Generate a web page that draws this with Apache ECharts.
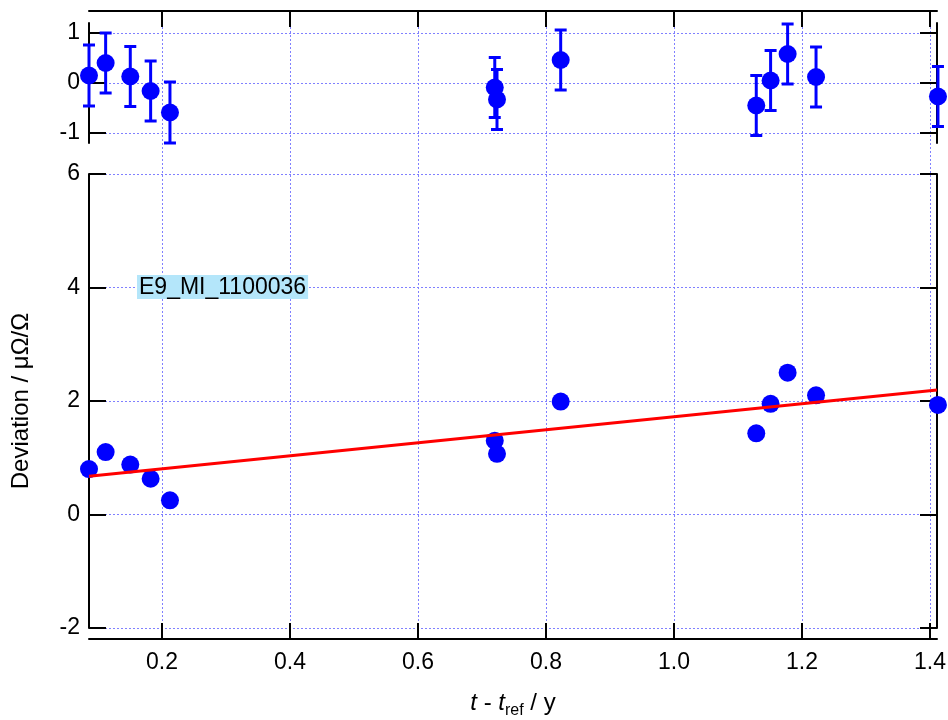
<!DOCTYPE html>
<html>
<head>
<meta charset="utf-8">
<script src="https://cdn.jsdelivr.net/npm/echarts@6/dist/echarts.min.js"></script>
<style>
html,body{margin:0;padding:0;background:#fff;}
#chart{width:948px;height:720px;}
</style>
</head>
<body>
<div id="chart"></div>
<script>
// ---- data ----
const xValues = [0.086, 0.112, 0.1505, 0.1823, 0.2125, 0.720, 0.7235, 0.823, 1.1286, 1.151, 1.1776, 1.222, 1.4125];
const deviation = [0.80, 1.10, 0.88, 0.63, 0.25, 1.30, 1.07, 1.99, 1.43, 1.95, 2.50, 2.10, 1.93];
const residuals = [0.15, 0.40, 0.13, -0.16, -0.59, -0.09, -0.33, 0.46, -0.45, 0.05, 0.58, 0.12, -0.27];
const residualErr = [0.61, 0.60, 0.60, 0.60, 0.61, 0.60, 0.60, 0.60, 0.60, 0.60, 0.60, 0.60, 0.60];
const fitX = [0.086, 1.411];
const fitY = [0.674, 2.194];
const xTicks = [0.2, 0.4, 0.6, 0.8, 1.0, 1.2, 1.4];
const mainYTicks = [-2, 0, 2, 4, 6];
const resYTicks = [-1, 0, 1];
const labelText = 'E9_MI_1100036';

const X_MIN = 0.086, X_MAX = 1.411;
const FONT = '"Liberation Sans", Arial, sans-serif';
const GRID_COLOR = '#8080ff';
const BLUE = '#0000ff';

const chart = echarts.init(document.getElementById('chart'));

const axisLine = {show: true, onZero: false, lineStyle: {color: '#000', width: 2}};
const tick = (vals, len) => ({show: true, inside: true, length: len, customValues: vals, lineStyle: {color: '#000', width: 2}});
const gridLine = {show: true, lineStyle: {color: GRID_COLOR, width: 1, type: [2, 2]}};
const lbl = (vals, fmt, margin) => ({show: true, customValues: vals, formatter: fmt, color: '#000', fontSize: 23, fontFamily: FONT, margin: margin});

const mainData = xValues.map((x, i) => [x, deviation[i]]);
const resData = xValues.map((x, i) => [x, residuals[i]]);
const errData = xValues.map((x, i) => [x, residuals[i] - residualErr[i], residuals[i] + residualErr[i]]);
const fitData = fitX.map((x, i) => [x, fitY[i]]);

const option = {
  backgroundColor: '#fff',
  animation: false,
  grid: [
    {left: 89, width: 848, top: 23, height: 120, outerBoundsMode: 'none', containLabel: false},
    {left: 89, width: 848, top: 174, height: 454, outerBoundsMode: 'none', containLabel: false},
    {left: 89, width: 848, top: 23, height: 605, outerBoundsMode: 'none', containLabel: false}
  ],
  xAxis: [
    {gridIndex: 0, type: 'value', min: X_MIN, max: X_MAX, position: 'top', offset: 12,
     axisLine: axisLine, axisTick: tick(xTicks, 16), axisLabel: {show: false}, splitLine: {show: false}},
    {gridIndex: 1, type: 'value', min: X_MIN, max: X_MAX, position: 'bottom', offset: 11,
     axisLine: axisLine, axisTick: tick(xTicks, 16),
     axisLabel: lbl(xTicks, v => v.toFixed(1), 12), splitLine: {show: false},
     name: '{i|t}{n| - }{i|t}{s|ref}{n| / y}', nameLocation: 'middle', nameGap: 52,
     nameTextStyle: {color: '#000', fontFamily: FONT, fontSize: 24,
       rich: {
         i: {fontStyle: 'italic', fontSize: 24, fontFamily: FONT, color: '#000', lineHeight: 28, verticalAlign: 'top'},
         n: {fontSize: 24, fontFamily: FONT, color: '#000', lineHeight: 28, verticalAlign: 'top'},
         s: {fontSize: 16, fontFamily: FONT, color: '#000', lineHeight: 14, verticalAlign: 'bottom'}
       }}},
    {gridIndex: 2, type: 'value', min: X_MIN, max: X_MAX, show: true,
     axisLine: {show: false}, axisTick: {show: false, customValues: xTicks}, axisLabel: {show: false},
     splitLine: gridLine}
  ],
  yAxis: [
    {gridIndex: 0, type: 'value', min: -1.2, max: 1.2, position: 'left',
     axisLine: axisLine, axisTick: tick(resYTicks, 17), axisLabel: lbl(resYTicks, v => String(v), 9), splitLine: gridLine},
    {gridIndex: 0, type: 'value', min: -1.2, max: 1.2, position: 'right',
     axisLine: axisLine, axisTick: tick(resYTicks, 17), axisLabel: {show: false}, splitLine: {show: false}},
    {gridIndex: 1, type: 'value', min: -2, max: 6, position: 'left',
     axisLine: axisLine, axisTick: tick(mainYTicks, 17), axisLabel: lbl(mainYTicks, v => String(v), 9), splitLine: gridLine,
     name: 'Deviation / μΩ/Ω', nameLocation: 'middle', nameGap: 56,
     nameTextStyle: {color: '#000', fontFamily: FONT, fontSize: 24}},
    {gridIndex: 1, type: 'value', min: -2, max: 6, position: 'right',
     axisLine: axisLine, axisTick: tick(mainYTicks, 17), axisLabel: {show: false}, splitLine: {show: false}},
    {gridIndex: 2, type: 'value', min: 0, max: 1, show: false}
  ],
  series: [
    {type: 'custom', xAxisIndex: 0, yAxisIndex: 0, clip: false, data: errData, z: 3,
     renderItem: function (params, api) {
       const x = api.value(0);
       const top = api.coord([x, api.value(2)]);
       const bot = api.coord([x, api.value(1)]);
       const hw = 6;
       const st = {stroke: BLUE, lineWidth: 3};
       return {type: 'group', children: [
         {type: 'line', shape: {x1: top[0], y1: top[1], x2: bot[0], y2: bot[1]}, style: st},
         {type: 'line', shape: {x1: top[0] - hw, y1: top[1], x2: top[0] + hw, y2: top[1]}, style: st},
         {type: 'line', shape: {x1: bot[0] - hw, y1: bot[1], x2: bot[0] + hw, y2: bot[1]}, style: st}
       ]};
     }},
    {type: 'scatter', xAxisIndex: 0, yAxisIndex: 0, clip: false, data: resData, symbol: 'circle', symbolSize: 18,
     itemStyle: {color: BLUE, opacity: 1}, z: 4},
    {type: 'scatter', xAxisIndex: 1, yAxisIndex: 2, clip: false, data: mainData, symbol: 'circle', symbolSize: 18,
     itemStyle: {color: BLUE, opacity: 1}, z: 3},
    {type: 'line', xAxisIndex: 1, yAxisIndex: 2, data: fitData, showSymbol: false, symbol: 'none',
     lineStyle: {color: '#ff0000', width: 3}, z: 4}
  ],
  graphic: [
    {type: 'text', left: 137, top: 275, z: 10,
     style: {text: labelText, font: '23px ' + FONT, fill: '#000', backgroundColor: '#b4e6fa', padding: [1, 2, 0, 2]}}
  ]
};
chart.setOption(option);
</script>
</body>
</html>
